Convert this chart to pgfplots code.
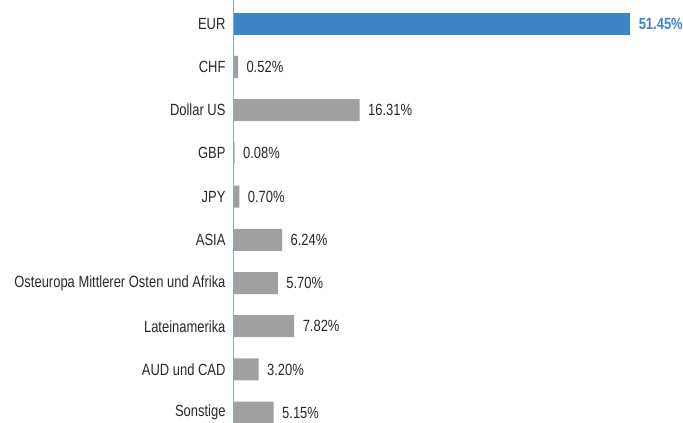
\documentclass[border=0pt]{standalone}
\usepackage{fontspec}
\setmainfont{Liberation Sans}[FakeStretch=0.8]
\usepackage{pgfplots}
\pgfplotsset{compat=1.18}
\definecolor{barblue}{RGB}{61,133,198}
\definecolor{bargray}{RGB}{160,160,160}
\definecolor{axisblue}{RGB}{120,175,230}
\definecolor{txt}{RGB}{40,40,40}
\begin{document}
\begin{tikzpicture}
\begin{axis}[
  at={(234pt,0pt)}, anchor=south west,
  scale only axis, width=449pt, height=423pt,
  xmin=0, xmax=58.3,
  ymin=-0.55, ymax=9.24, y dir=reverse,
  axis x line=none,
  axis y line*=left,
  y axis line style={axisblue, line width=1pt, -},
  ytick={0,...,9},
  yticklabels={EUR,CHF,Dollar US,GBP,JPY,ASIA,Osteuropa Mittlerer Osten und Afrika,Lateinamerika,AUD und CAD,Sonstige},
  major tick length=0pt,
  yticklabel style={font=\fontsize{16.2}{18}\selectfont, text=txt, xshift=-5pt},
  xbar, bar width=22pt, bar shift=0pt,
  clip=false,
  /pgf/number format/assume math mode=true,
  nodes near coords={\pgfmathprintnumber[fixed,fixed zerofill,precision=2]{\pgfplotspointmeta}\%},
  every node near coord/.append style={font=\fontsize{16.2}{18}\selectfont, text=txt, anchor=west, xshift=5pt},
]
\addplot[fill=barblue, draw=none, every node near coord/.append style={text=barblue, font=\fontsize{16.2}{18}\selectfont\bfseries}] coordinates {(51.45,0)};
\addplot[fill=bargray, draw=none] coordinates {
(0.52,1) (16.31,2) (0.08,3) (0.70,4) (6.24,5) (5.70,6) (7.82,7) (3.20,8) (5.15,9)};
\end{axis}
\pgfresetboundingbox
\path (0pt,0pt) rectangle (683pt,423pt);
\end{tikzpicture}
\end{document}
